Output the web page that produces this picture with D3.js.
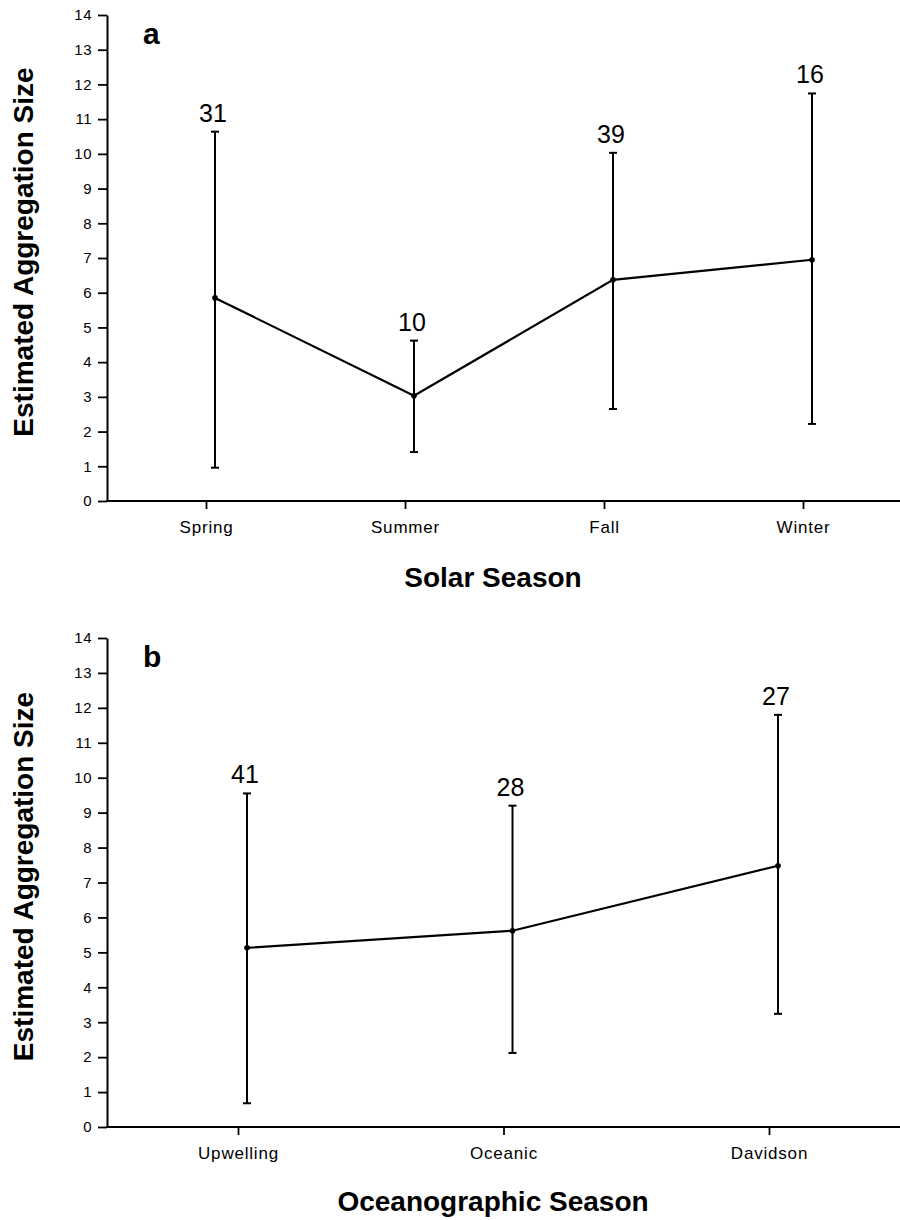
<!DOCTYPE html>
<html>
<head>
<meta charset="utf-8">
<script src="https://cdn.jsdelivr.net/npm/d3@7"></script>
<style>
  body { margin: 0; background: #fff; }
  svg { display: block; font-family: "Liberation Sans", Arial, sans-serif; }
</style>
</head>
<body>
<div id="chart"></div>
<script>
// Panel a: solar seasons
const solarSeasons = ["Spring", "Summer", "Fall", "Winter"];
const solarMean = [5.85, 3.03, 6.37, 6.95];
const solarUpper = [10.64, 4.62, 10.03, 11.74];
const solarLower = [0.96, 1.41, 2.65, 2.22];
const solarN = [31, 10, 39, 16];

// Panel b: oceanographic seasons
const oceanSeasons = ["Upwelling", "Oceanic", "Davidson"];
const oceanMean = [5.13, 5.62, 7.48];
const oceanUpper = [9.55, 9.2, 11.8];
const oceanLower = [0.68, 2.12, 3.24];
const oceanN = [41, 28, 27];

const yTicks = d3.range(0, 15);

const width = 900, height = 1220;
const svg = d3.select("#chart").append("svg")
  .attr("width", width)
  .attr("height", height);

function drawPanel(opts) {
  const g = svg.append("g");
  const y = d3.scaleLinear().domain([0, 14]).range([opts.yBottom, opts.yTop]);
  const x = d3.scalePoint().domain(opts.cats).range(opts.xRange);
  const axisX = 107;
  const tickShift = -9; // category ticks sit slightly left of the bars

  // y axis
  g.append("g")
    .attr("transform", `translate(${axisX},0)`)
    .call(d3.axisLeft(y).tickValues(yTicks).tickSize(9).tickSizeOuter(0).tickPadding(6))
    .call(a => a.select(".domain").attr("stroke-width", 2))
    .call(a => a.selectAll(".tick line").attr("stroke-width", 1.8))
    .call(a => a.selectAll("text").style("font-size", "15px").style("letter-spacing", "0.5px").attr("fill", "#000"));

  // x axis line
  g.append("line")
    .attr("x1", axisX - 1).attr("x2", width)
    .attr("y1", opts.yBottom).attr("y2", opts.yBottom)
    .attr("stroke", "#000").attr("stroke-width", 2);

  // x axis ticks + labels
  g.append("g")
    .attr("transform", `translate(${tickShift},${opts.yBottom})`)
    .call(d3.axisBottom(x).tickSize(8).tickSizeOuter(0).tickPadding(12))
    .call(a => a.select(".domain").remove())
    .call(a => a.selectAll(".tick line").attr("stroke-width", 1.8))
    .call(a => a.selectAll("text").style("font-size", "17px").style("letter-spacing", "0.8px").attr("fill", "#000"));

  const data = opts.cats.map((c, i) => ({
    cat: c, mean: opts.mean[i], hi: opts.upper[i], lo: opts.lower[i], n: opts.n[i]
  }));

  // error bars
  const eb = g.selectAll(".eb").data(data).enter().append("g").attr("class", "eb");
  eb.append("line")
    .attr("x1", d => x(d.cat)).attr("x2", d => x(d.cat))
    .attr("y1", d => y(d.hi)).attr("y2", d => y(d.lo))
    .attr("stroke", "#000").attr("stroke-width", 2);
  eb.append("line")
    .attr("x1", d => x(d.cat) - 4).attr("x2", d => x(d.cat) + 4)
    .attr("y1", d => y(d.hi)).attr("y2", d => y(d.hi))
    .attr("stroke", "#000").attr("stroke-width", 2);
  eb.append("line")
    .attr("x1", d => x(d.cat) - 4).attr("x2", d => x(d.cat) + 4)
    .attr("y1", d => y(d.lo)).attr("y2", d => y(d.lo))
    .attr("stroke", "#000").attr("stroke-width", 2);

  // sample sizes
  eb.append("text")
    .attr("x", d => x(d.cat) - 2)
    .attr("y", d => y(d.hi) - 10)
    .attr("text-anchor", "middle")
    .style("font-size", "25px")
    .text(d => d.n);

  // mean line
  g.append("path")
    .datum(data)
    .attr("fill", "none")
    .attr("stroke", "#000")
    .attr("stroke-width", 2.2)
    .attr("d", d3.line().x(d => x(d.cat)).y(d => y(d.mean)));

  g.selectAll(".pt").data(data).enter().append("circle")
    .attr("cx", d => x(d.cat)).attr("cy", d => y(d.mean))
    .attr("r", 2.8).attr("fill", "#000");

  // panel letter
  g.append("text")
    .attr("x", 143).attr("y", opts.yTop + 29)
    .style("font-size", "30px").style("font-weight", "bold")
    .text(opts.letter);

  // axis titles
  g.append("text")
    .attr("transform", `translate(33,${(opts.yTop + opts.yBottom) / 2 - 6}) rotate(-90)`)
    .attr("text-anchor", "middle")
    .style("font-size", "28px").style("font-weight", "bold")
    .text("Estimated Aggregation Size");

  g.append("text")
    .attr("x", 493).attr("y", opts.yBottom + opts.titleGap)
    .attr("text-anchor", "middle")
    .style("font-size", "28px").style("font-weight", "bold")
    .text(opts.xTitle);
}

drawPanel({
  cats: solarSeasons, mean: solarMean, upper: solarUpper, lower: solarLower, n: solarN,
  yTop: 15, yBottom: 501, xRange: [215, 812], letter: "a", xTitle: "Solar Season", titleGap: 86
});

drawPanel({
  cats: oceanSeasons, mean: oceanMean, upper: oceanUpper, lower: oceanLower, n: oceanN,
  yTop: 638, yBottom: 1127, xRange: [247, 778], letter: "b", xTitle: "Oceanographic Season", titleGap: 84
});
</script>
</body>
</html>
